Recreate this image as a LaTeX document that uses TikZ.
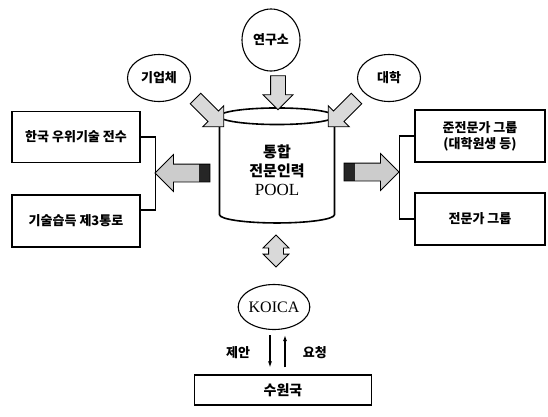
\documentclass[tikz,border=0pt]{standalone}
\usepackage{fontspec}
\setmainfont{Liberation Serif}
\newfontfamily\kr{Noto Sans CJK KR}
\usetikzlibrary{arrows.meta,shapes.geometric,shapes.arrows}

\begin{document}
\begin{tikzpicture}[x=1pt, y=-1pt, line width=1.1pt,
	font=\kr\bfseries\fontsize{13}{16}\selectfont,
	box/.style={draw, minimum width=128pt, minimum height=51pt, inner sep=0pt, align=center},
	src/.style={draw, ellipse, minimum width=63pt, minimum height=47pt, inner sep=0pt},
	fat/.style={single arrow, draw, line width=0.8pt, fill=gray!30, inner xsep=0pt,
		inner ysep=7pt, minimum height=36pt, single arrow head extend=7.5pt},
	side/.style={fat, fill=gray!40, inner ysep=8.5pt, minimum height=55pt,
		single arrow head extend=9.5pt},
	arrows={-Latex[length=6pt,width=4pt]}]
	\useasboundingbox (0,0) rectangle (548,416);

	\node[src, minimum width=58pt, minimum height=62pt] (lab) at (271,40) {연구소};
	\node[src] (corp) at (159,78) {기업체};
	\node[src] (univ) at (389,78) {대학};

	\node[cylinder, shape border rotate=90, draw, line width=1.6pt, aspect=0.3,
		minimum width=115pt, minimum height=115pt, inner sep=0pt, align=center,
		font=\kr\bfseries\fontsize{15}{19}\selectfont] (pool) at (277,170)
		{통합\\전문인력\\{\rmfamily\mdseries\fontsize{17}{19}\selectfont POOL}};

	\node[fat, rotate=-90, minimum height=34pt] (fromlab) at (278,89) {};
	\node[fat, rotate=-45, minimum height=40pt] (fromcorp) at (207,110) {};
	\node[fat, rotate=-135, minimum height=40pt] (fromuniv) at (345,110) {};

	% dark band at the tail end of the side arrows
	\node[side, shape border rotate=180, path picture={\fill[black!85]
		([xshift=-11pt]path picture bounding box.north east)
		rectangle (path picture bounding box.south east);}] (toleft) at (187,173) {};
	\node[side, path picture={\fill[black!85]
		([xshift=11pt]path picture bounding box.north west)
		rectangle (path picture bounding box.south west);}] (toright) at (367,172) {};

	\node[box] (l1) at (76,137) {한국 우위기술 전수};
	\node[box, minimum height=52pt] (l2) at (76,221) {기술습득 제3통로};
	\node[box, minimum width=130pt, minimum height=52pt] (r1) at (480,136)
		{준전문가 그룹\\(대학원생 등)};
	\node[box, minimum width=130pt, minimum height=52pt] (r2) at (480,219) {전문가 그룹};
	\draw[-] (l1.east) -- ++(15,0) |- ([yshift=11pt]l2.east);
	\draw[-] (r1.west) -- ++(-15,0) |- (r2.west);

	\node[double arrow, rotate=90, draw, line width=0.8pt, fill=gray!30,
		inner xsep=0pt, inner ysep=7pt, minimum height=32pt,
		double arrow head extend=5.5pt] (link) at (276,251) {};

	\node[draw, ellipse, minimum width=62pt, minimum height=45pt, inner sep=0pt,
		font=\rmfamily\fontsize{16}{18}\selectfont] (koica) at (274,307) {KOICA};
	\node[box, minimum width=177pt, minimum height=30pt,
		font=\kr\bfseries\fontsize{14}{16}\selectfont] (host) at (283,390) {수원국};

	\draw[shorten <=5pt, shorten >=7pt] ([xshift=-4pt]koica.south)
		-- node[left=16pt] {제안} ([xshift=-4pt]koica.south |- host.north);
	\draw[shorten <=7pt, shorten >=5pt] ([xshift=11pt]koica.south |- host.north)
		-- node[right=14pt] {요청} ([xshift=11pt]koica.south);
\end{tikzpicture}
\end{document}
